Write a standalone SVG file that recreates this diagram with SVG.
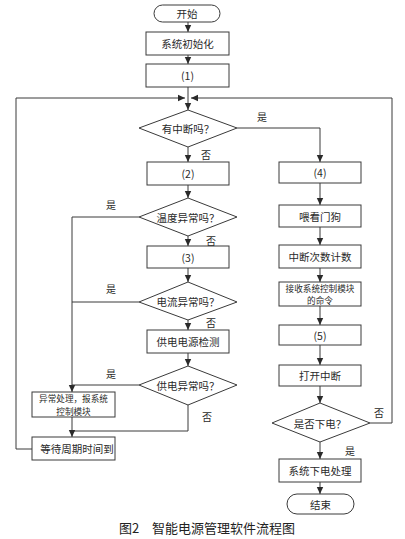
<svg xmlns="http://www.w3.org/2000/svg" width="405" height="539" viewBox="0 0 405 539">
<style>
.b{fill:#fff;stroke:#3a3a3a;stroke-width:1}
.t{font-family:"Noto Sans CJK SC","Noto Sans",sans-serif;font-size:10.5px;fill:#2a2a2a;text-anchor:middle;dominant-baseline:central}
.s{font-size:8.6px}
.l{font-family:"Noto Sans CJK SC","Noto Sans",sans-serif;font-size:10px;fill:#2a2a2a;text-anchor:middle;dominant-baseline:central}
.c{fill:none;stroke:#3a3a3a;stroke-width:1}
.a{marker-end:url(#ar)}
</style>
<defs>
<marker id="ar" markerUnits="userSpaceOnUse" markerWidth="8" markerHeight="8" refX="7" refY="4" orient="auto">
<path d="M0,0.8 L7,4 L0,7.2 Z" fill="#2a2a2a"/>
</marker>
</defs>
<rect width="405" height="539" fill="#fff"/>
<g id="connectors">
<path class="c a" d="M188,22 V32"/>
<path class="c a" d="M188,55 V64"/>
<path class="c" d="M188,87 V98"/>
<path class="c a" d="M188,98 V110"/>
<path class="c a" d="M32,449 H16 V98 H185"/>
<path class="c a" d="M370,423 H392 V98 H191"/>
<path class="c a" d="M237,128 H320 V162"/>
<path class="c a" d="M188,147 V162"/>
<path class="c a" d="M188,185 V198"/>
<path class="c a" d="M139,217 H72 V392"/>
<path class="c a" d="M188,236 V246"/>
<path class="c a" d="M188,268 V282"/>
<path class="c" d="M139,302 H72"/>
<path class="c a" d="M188,320 V330"/>
<path class="c a" d="M188,353 V366"/>
<path class="c" d="M139,385 H72"/>
<path class="c" d="M188,405 V431 H72"/>
<path class="c a" d="M72,417 V437"/>
<path class="c a" d="M320,183 V205"/>
<path class="c a" d="M320,227 V245"/>
<path class="c a" d="M320,268 V282"/>
<path class="c a" d="M320,306 V325"/>
<path class="c a" d="M320,345 V365"/>
<path class="c a" d="M320,386 V403"/>
<path class="c a" d="M320,442 V459"/>
<path class="c a" d="M320,482 V494"/>
<text class="l" x="262" y="116">是</text>
<text class="l" x="206" y="154">否</text>
<text class="l" x="111" y="204">是</text>
<text class="l" x="211" y="240">否</text>
<text class="l" x="111" y="288">是</text>
<text class="l" x="211" y="322">否</text>
<text class="l" x="111" y="373">是</text>
<text class="l" x="207" y="416">否</text>
<text class="l" x="379" y="412">否</text>
<text class="l" x="350" y="450">是</text>
</g>
<g id="start"><rect class="b" x="154" y="5" width="66" height="17" rx="8.5"/><text class="t" x="187" y="13.5">开始</text></g>
<g id="init"><rect class="b" x="146" y="32" width="83" height="23"/><text class="t" x="187.5" y="43.5">系统初始化</text></g>
<g id="step1"><rect class="b" x="146" y="64" width="83" height="23"/><text class="t" x="187.5" y="75.5">(1)</text></g>
<g id="d-interrupt"><polygon class="b" points="188,110 237,128 188,147 139,128"/><text class="t" x="188" y="128.5">有中断吗？</text></g>
<g id="step2"><rect class="b" x="147" y="162" width="82" height="23"/><text class="t" x="188" y="173.5">(2)</text></g>
<g id="d-temp"><polygon class="b" points="188,198 237,217 188,236 139,217"/><text class="t" x="188" y="217.5">温度异常吗？</text></g>
<g id="step3"><rect class="b" x="147" y="246" width="82" height="22"/><text class="t" x="188" y="257">(3)</text></g>
<g id="d-current"><polygon class="b" points="188,282 237,302 188,320 139,302"/><text class="t" x="188" y="301.5">电流异常吗？</text></g>
<g id="power-check"><rect class="b" x="147" y="330" width="82" height="23"/><text class="t" x="188" y="341.5">供电电源检测</text></g>
<g id="d-power"><polygon class="b" points="188,366 237,385 188,405 139,385"/><text class="t" x="188" y="385.5">供电异常吗？</text></g>
<g id="abnormal"><rect class="b" x="32" y="392" width="83" height="25"/><text class="t s" x="73.5" y="398.2">异常处理，报系统</text><text class="t s" x="73.5" y="410.8">控制模块</text></g>
<g id="wait"><rect class="b" x="32" y="437" width="83" height="23"/><text class="t" x="77" y="448.5">等待周期时间到</text></g>
<g id="step4"><rect class="b" x="279" y="162" width="82" height="21"/><text class="t" x="320" y="172.5">(4)</text></g>
<g id="watchdog"><rect class="b" x="279" y="205" width="82" height="22"/><text class="t" x="320" y="216">喂看门狗</text></g>
<g id="count"><rect class="b" x="279" y="245" width="82" height="23"/><text class="t" x="320" y="256.5">中断次数计数</text></g>
<g id="receive"><rect class="b" x="279" y="282" width="82" height="24"/><text class="t s" x="320" y="287.8">接收系统控制模块</text><text class="t s" x="320" y="300.4">的命令</text></g>
<g id="step5"><rect class="b" x="279" y="325" width="82" height="20"/><text class="t" x="320" y="335">(5)</text></g>
<g id="enable-int"><rect class="b" x="279" y="365" width="82" height="21"/><text class="t" x="320" y="375.5">打开中断</text></g>
<g id="d-poweroff"><polygon class="b" points="320,403 370,423 320,442 272,423"/><text class="t" x="320" y="423">是否下电？</text></g>
<g id="poweroff"><rect class="b" x="279" y="459" width="82" height="23"/><text class="t" x="320" y="470.5">系统下电处理</text></g>
<g id="end"><rect class="b" x="287" y="494" width="67" height="20" rx="10"/><text class="t" x="320.5" y="504">结束</text></g>
<text x="207" y="527" style="font-family:'Noto Sans CJK SC',sans-serif;font-size:13px;fill:#222;text-anchor:middle;dominant-baseline:central">图2　智能电源管理软件流程图</text>
</svg>
